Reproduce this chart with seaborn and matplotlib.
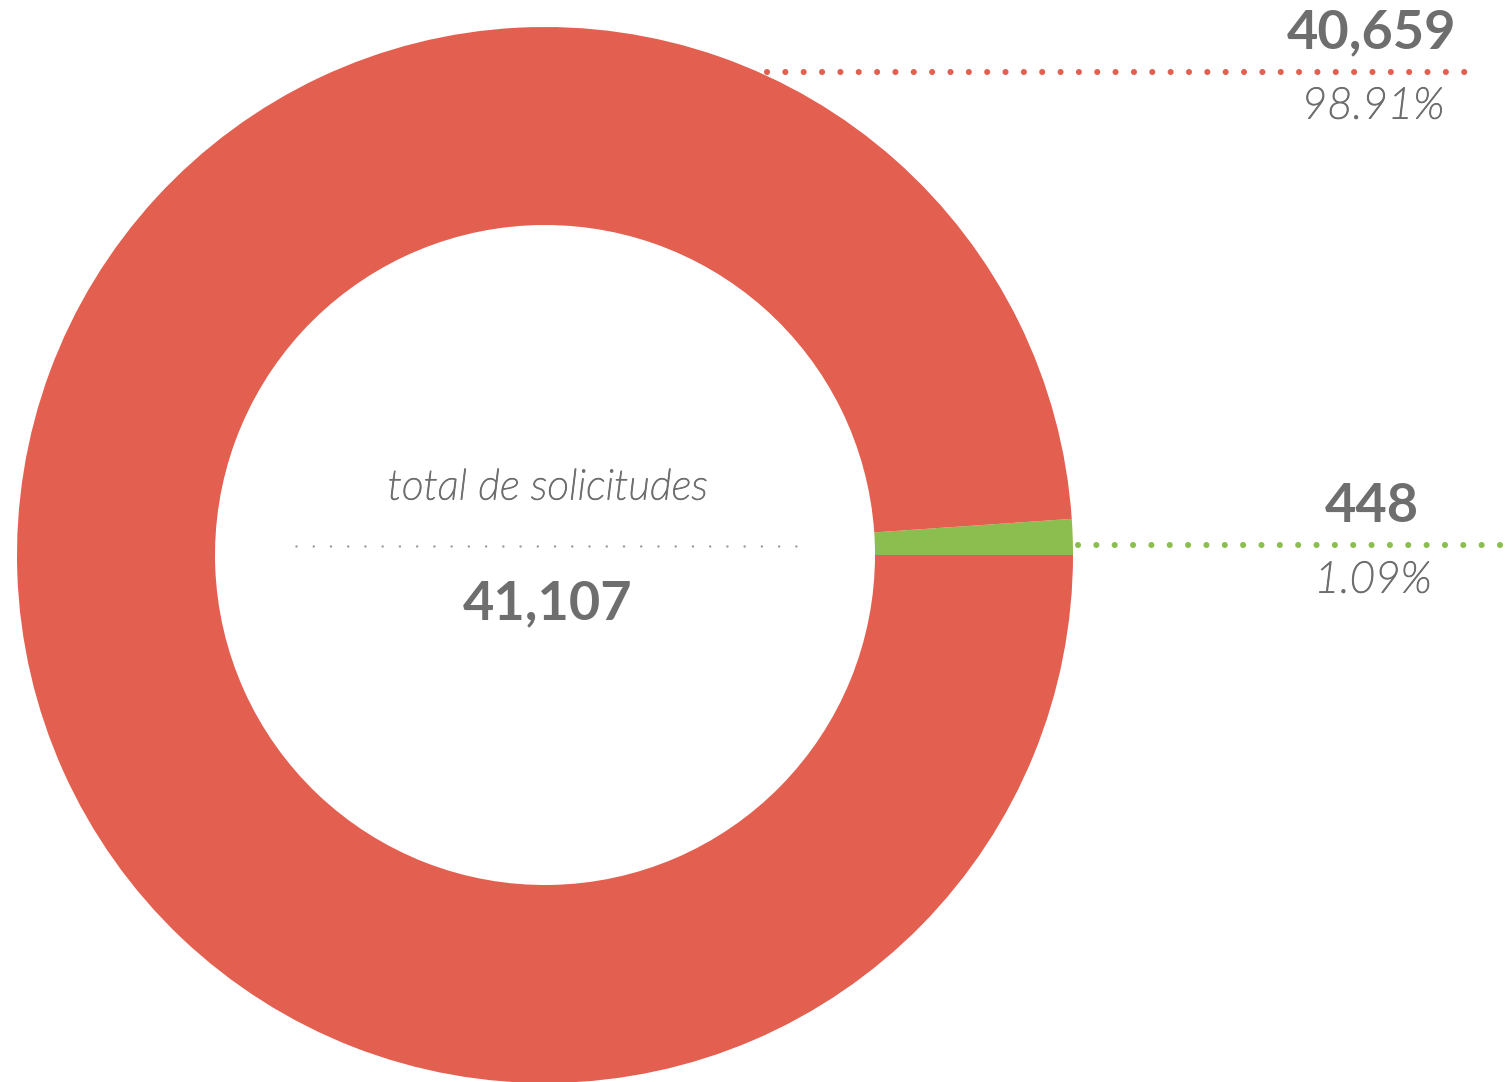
import matplotlib
matplotlib.use("Agg")
import matplotlib.pyplot as plt
from matplotlib import font_manager as fm
import matplotlib.patheffects as pe
import seaborn as sns

# ---- data ----
categories = ["Red", "Green"]
values = [40659, 448]
value_labels = ["40,659", "448"]
pct_labels = ["98.91%", "1.09%"]
total_label = "41,107"
center_title = "total de solicitudes"

sns.set_theme(style="white")
plt.rcParams['font.family'] = ['Lato', 'DejaVu Sans']
plt.rcParams['lines.scale_dashes'] = False

files = sorted(fm.findSystemFonts())
def find_font(keys_list):
    for keys in keys_list:
        for f in files:
            n = f.split("/")[-1].lower().replace("-", "").replace("_", "").replace(" ", "")
            bad = [b for b in ["hairline", "thin", "italic", "heavy", "black", "semibold", "medium"]
                   if not any(b in k for k in keys)]
            if all(k in n for k in keys) and not any(b in n for b in bad):
                return fm.FontProperties(fname=f)
    return None

light_it = find_font([["lato", "lightitalic"], ["lato", "italic"]])
bold = find_font([["lato", "bold"]])
if light_it is None:
    light_it = fm.FontProperties(family="Lato", style="italic")
if bold is None:
    bold = fm.FontProperties(family="Lato", weight="bold", style="normal")

RED = "#E35F4F"
GREEN = "#8CBE4F"
GRAY = "#6E6E6E"

W, H = 1506, 1082
fig = plt.figure(figsize=(W / 100, H / 100), dpi=100)
ax = fig.add_axes([0, 0, 1, 1])

cx, cy = 545, H - 555
R_out, R_in = 528, 330

ax.pie([values[1], values[0]], colors=[GREEN, RED], startangle=0, counterclock=True,
       center=(cx, cy), radius=R_out, frame=True,
       wedgeprops=dict(width=R_out - R_in, linewidth=0))
ax.set_xlim(0, W)
ax.set_ylim(0, H)
ax.set_aspect("equal")
ax.axis("off")

def dotted(x0, x1, y, color, lw, gap):
    ax.plot([x0, x1], [H - y, H - y], color=color, linewidth=lw,
            dash_capstyle="round", dashes=(0.01, gap))

def txt(x, y, s, fp, size, thicken=0.0):
    p = fp.copy()
    p.set_size(size)
    t = ax.text(x, H - y, s, ha="center", va="center", fontproperties=p, color=GRAY)
    if thicken > 0:
        t.set_path_effects([pe.withStroke(linewidth=thicken, foreground=GRAY)])

# red annotation
dotted(767, 1482, 72, RED, 4.4, 13.2)
txt(1372, 33, value_labels[0], bold, 39)
txt(1373, 107, pct_labels[0], light_it, 31.5, 0.7)

# green annotation
dotted(1078, 1506, 545, GREEN, 4.4, 13.2)
txt(1372, 507, value_labels[1], bold, 39)
txt(1373, 581, pct_labels[1], light_it, 31.5, 0.7)

# center
txt(548, 488, center_title, light_it, 30.6, 0.6)
dotted(296, 796, 546, "#9A9A9A", 1.8, 12.4)
txt(548, 604, total_label, bold, 39)

fig.savefig("out.png", dpi=100)
